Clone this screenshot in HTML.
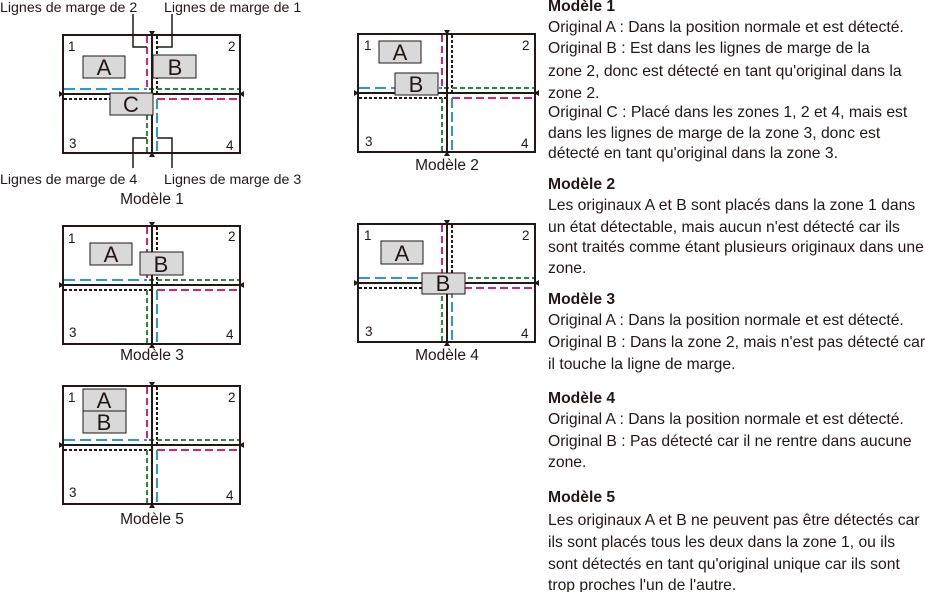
<!DOCTYPE html>
<html><head><meta charset="utf-8"><style>
html,body{margin:0;padding:0;background:#fff;}
svg{display:block;}
text{font-family:"Liberation Sans",Arial,sans-serif;fill:#231815;}
.t{font-size:15.7px;}
.b{font-size:15.7px;font-weight:bold;}
.c{font-size:15.5px;}
.n{font-size:13.5px;}
.l{font-size:14.2px;}
.bx{font-size:22px;}
</style></head><body>
<svg width="925" height="592" viewBox="0 0 925 592" xmlns="http://www.w3.org/2000/svg">
<defs>
<g id="grid">
  <rect x="0" y="0" width="177" height="118" fill="none" stroke="#231815" stroke-width="2"/>
  <line x1="84" y1="1" x2="84" y2="54" stroke="#d6246e" stroke-width="2" stroke-dasharray="7,4"/>
  <line x1="94" y1="1" x2="94" y2="59" stroke="#231815" stroke-width="2" stroke-dasharray="3,2"/>
  <line x1="1" y1="54" x2="84" y2="54" stroke="#2a9ad6" stroke-width="2" stroke-dasharray="11,5"/>
  <line x1="86" y1="54" x2="176" y2="54" stroke="#2a8a3a" stroke-width="2" stroke-dasharray="5,3"/>
  <line x1="1" y1="64" x2="89" y2="64" stroke="#231815" stroke-width="2" stroke-dasharray="3,2"/>
  <line x1="94" y1="64" x2="176" y2="64" stroke="#d6246e" stroke-width="2" stroke-dasharray="8,4"/>
  <line x1="84" y1="64" x2="84" y2="117" stroke="#2a8a3a" stroke-width="2" stroke-dasharray="5,3"/>
  <line x1="94" y1="64" x2="94" y2="117" stroke="#2a9ad6" stroke-width="2" stroke-dasharray="10,4"/>
  <line x1="89" y1="-3" x2="89" y2="121" stroke="#231815" stroke-width="2"/>
  <line x1="-3" y1="59" x2="180" y2="59" stroke="#231815" stroke-width="2"/>
  <path d="M86,-4 L92,-4 L89,1Z M86,122 L92,122 L89,117Z M-4,56 L-4,62 L1,59Z M181,56 L181,62 L176,59Z" fill="#231815"/>
</g>
</defs>

<!-- Model 1 -->
<use href="#grid" x="63" y="35"/>
<g fill="none" stroke="#231815" stroke-width="1.5">
<polyline points="133,14 133,47 147,47"/>
<polyline points="172,14 172,47 157,47"/>
<polyline points="133,168 133,138 147,138"/>
<polyline points="172,168 172,138 157,138"/>
</g>
<g fill="#d9d9d9" stroke="#231815" stroke-width="1">
<rect x="83" y="56" width="42" height="22"/>
<rect x="153" y="55" width="43" height="23"/>
<rect x="110" y="93" width="43" height="22"/>
</g>
<text class="bx" x="104" y="75" text-anchor="middle">A</text>
<text class="bx" x="175" y="75" text-anchor="middle">B</text>
<text class="bx" x="131" y="112" text-anchor="middle">C</text>
<text class="n" x="68" y="51">1</text><text class="n" x="228" y="51">2</text>
<text class="n" x="69" y="148">3</text><text class="n" x="226" y="150">4</text>
<text class="l" x="0" y="12">Lignes de marge de 2</text>
<text class="l" x="164" y="12">Lignes de marge de 1</text>
<text class="l" x="0" y="184">Lignes de marge de 4</text>
<text class="l" x="164" y="184">Lignes de marge de 3</text>
<text class="c" x="152" y="204" text-anchor="middle">Modèle 1</text>

<!-- Model 2 -->
<use href="#grid" x="358" y="34"/>
<g fill="#d9d9d9" stroke="#231815" stroke-width="1">
<rect x="379" y="41" width="42" height="22"/>
<rect x="395" y="73" width="43" height="22"/>
</g>
<text class="bx" x="400" y="60" text-anchor="middle">A</text>
<text class="bx" x="416" y="92" text-anchor="middle">B</text>
<text class="n" x="364" y="50">1</text><text class="n" x="522" y="50">2</text>
<text class="n" x="365" y="146">3</text><text class="n" x="521" y="148">4</text>
<text class="c" x="447" y="170" text-anchor="middle">Modèle 2</text>

<!-- Model 3 -->
<use href="#grid" x="63" y="226"/>
<g fill="#d9d9d9" stroke="#231815" stroke-width="1">
<rect x="90" y="243" width="42" height="22"/>
<rect x="140" y="252" width="43" height="23"/>
</g>
<text class="bx" x="111" y="262" text-anchor="middle">A</text>
<text class="bx" x="161" y="272" text-anchor="middle">B</text>
<text class="n" x="68" y="243">1</text><text class="n" x="228" y="241">2</text>
<text class="n" x="69" y="337">3</text><text class="n" x="226" y="339">4</text>
<text class="c" x="152" y="360" text-anchor="middle">Modèle 3</text>

<!-- Model 4 -->
<use href="#grid" x="358" y="224"/>
<g fill="#d9d9d9" stroke="#231815" stroke-width="1">
<rect x="381" y="241" width="42" height="23"/>
<rect x="422" y="273" width="43" height="21"/>
</g>
<text class="bx" x="402" y="261" text-anchor="middle">A</text>
<text class="bx" x="443" y="291" text-anchor="middle">B</text>
<text class="n" x="364" y="240">1</text><text class="n" x="522" y="240">2</text>
<text class="n" x="365" y="336">3</text><text class="n" x="521" y="338">4</text>
<text class="c" x="447" y="360" text-anchor="middle">Modèle 4</text>

<!-- Model 5 -->
<use href="#grid" x="63" y="386"/>
<g fill="#d9d9d9" stroke="#231815" stroke-width="1">
<rect x="83" y="389" width="43" height="22"/>
<rect x="83" y="411" width="43" height="22"/>
</g>
<text class="bx" x="104" y="408" text-anchor="middle">A</text>
<text class="bx" x="104" y="430" text-anchor="middle">B</text>
<text class="n" x="68" y="402">1</text><text class="n" x="228" y="402">2</text>
<text class="n" x="69" y="497">3</text><text class="n" x="226" y="500">4</text>
<text class="c" x="152" y="524" text-anchor="middle">Modèle 5</text>

<!-- Right text -->
<text class="b" x="548" y="11">Modèle 1</text>
<text class="t" x="548" y="32">Original A : Dans la position normale et est détecté.</text>
<text class="t" x="548" y="53">Original B : Est dans les lignes de marge de la</text>
<text class="t" x="548" y="76">zone 2, donc est détecté en tant qu'original dans la</text>
<text class="t" x="548" y="98">zone 2.</text>
<text class="t" x="548" y="117">Original C : Placé dans les zones 1, 2 et 4, mais est</text>
<text class="t" x="548" y="138">dans les lignes de marge de la zone 3, donc est</text>
<text class="t" x="548" y="158">détecté en tant qu'original dans la zone 3.</text>

<text class="b" x="548" y="189">Modèle 2</text>
<text class="t" x="548" y="210">Les originaux A et B sont placés dans la zone 1 dans</text>
<text class="t" x="548" y="232">un état détectable, mais aucun n'est détecté car ils</text>
<text class="t" x="548" y="252">sont traités comme étant plusieurs originaux dans une</text>
<text class="t" x="548" y="273">zone.</text>

<text class="b" x="548" y="304">Modèle 3</text>
<text class="t" x="548" y="325">Original A : Dans la position normale et est détecté.</text>
<text class="t" x="548" y="347">Original B : Dans la zone 2, mais n'est pas détecté car</text>
<text class="t" x="548" y="369">il touche la ligne de marge.</text>

<text class="b" x="548" y="403">Modèle 4</text>
<text class="t" x="548" y="424">Original A : Dans la position normale et est détecté.</text>
<text class="t" x="548" y="446">Original B : Pas détecté car il ne rentre dans aucune</text>
<text class="t" x="548" y="467">zone.</text>

<text class="b" x="548" y="502">Modèle 5</text>
<text class="t" x="548" y="525">Les originaux A et B ne peuvent pas être détectés car</text>
<text class="t" x="548" y="547">ils sont placés tous les deux dans la zone 1, ou ils</text>
<text class="t" x="548" y="569">sont détectés en tant qu'original unique car ils sont</text>
<text class="t" x="548" y="590">trop proches l'un de l'autre.</text>
</svg>
</body></html>
